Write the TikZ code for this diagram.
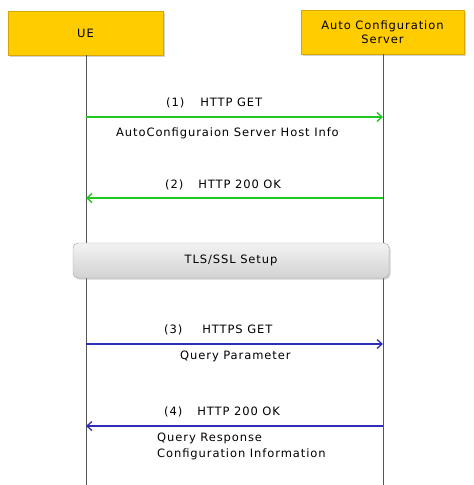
\documentclass[tikz,border=0pt]{standalone}
\usepackage{fontspec}
\setmainfont{DejaVu Sans}[LetterSpace=8]
\usetikzlibrary{arrows.meta,shadows}
\definecolor{boxyellow}{HTML}{FFCC00}
\definecolor{boxedge}{HTML}{D9A800}
\definecolor{msggreen}{HTML}{22C822}
\definecolor{msgblue}{HTML}{2E2EB8}
\definecolor{lifegray}{HTML}{555555}
\newcommand{\txtsize}{\fontsize{11.5}{14}\selectfont}
\tikzset{
  actor/.style={draw=boxedge, fill=boxyellow, line width=0.8pt, minimum width=#1, minimum height=44pt, inner sep=0pt, align=center, font=\txtsize, drop shadow={shadow xshift=1.5pt, shadow yshift=-1.5pt, opacity=0.35}},
  lifeline/.style={draw=lifegray, line width=0.9pt},
  greenmsg/.style={draw=msggreen, line width=1.4pt, -{Straight Barb[length=5pt,width=9pt]}},
  bluemsg/.style={draw=msgblue, line width=1.3pt, -{Straight Barb[length=5pt,width=9pt]}},
  lbl/.style={font=\txtsize, inner sep=0pt, anchor=west},
  phase/.style={draw=gray!70, rounded corners=5pt, top color=gray!10, bottom color=gray!35, minimum width=316pt, minimum height=35pt, inner sep=0pt, font=\txtsize, drop shadow={shadow xshift=1.5pt, shadow yshift=-1.5pt, opacity=0.35}}
}
\begin{document}
\begin{tikzpicture}[x=1pt,y=1pt]
\useasboundingbox (0,0) rectangle (474,-485);
\node[actor=155pt] (ue) at (85.5,-33) {UE};
\node[actor=163pt] (acs) at (382.5,-32) {Auto Configuration\\Server};
\coordinate (ueb) at (86,-485);
\coordinate (acsb) at (383,-485);
\draw[lifeline] (ue.south -| ueb) -- (ueb);
\draw[lifeline] (acs.south -| acsb) -- (acsb);
\node[phase] (tls) at (231,-260.5) {TLS/SSL Setup};
% message 1
\coordinate (m1a) at (86,-117);
\coordinate (m1b) at (383,-117);
\draw[greenmsg] (m1a) -- (m1b);
\node[lbl] (l1) at (166,-103) {(1)\hspace{16pt}HTTP GET};
\node[lbl] (l1b) at (116,-133) {AutoConfiguraion Server Host Info};
% message 2
\coordinate (m2a) at (383,-198);
\coordinate (m2b) at (86,-198);
\draw[greenmsg] (m2a) -- (m2b);
\node[lbl] (l2) at (165,-185) {(2)\hspace{15pt}HTTP 200 OK};
% message 3
\coordinate (m3a) at (86,-344);
\coordinate (m3b) at (383,-344);
\draw[bluemsg] (m3a) -- (m3b);
\node[lbl] (l3) at (164,-330) {(3)\hspace{20pt}HTTPS GET};
\node[lbl] (l3b) at (180,-356) {Query Parameter};
% message 4
\coordinate (m4a) at (383,-426);
\coordinate (m4b) at (86,-426);
\draw[bluemsg] (m4a) -- (m4b);
\node[lbl] (l4) at (164,-412) {(4)\hspace{15pt}HTTP 200 OK};
\node[lbl, align=left, anchor=north west, font=\fontsize{11.5}{16}\selectfont] (l4b) at (157,-433) {Query Response\\Configuration Information};
\end{tikzpicture}
\end{document}
